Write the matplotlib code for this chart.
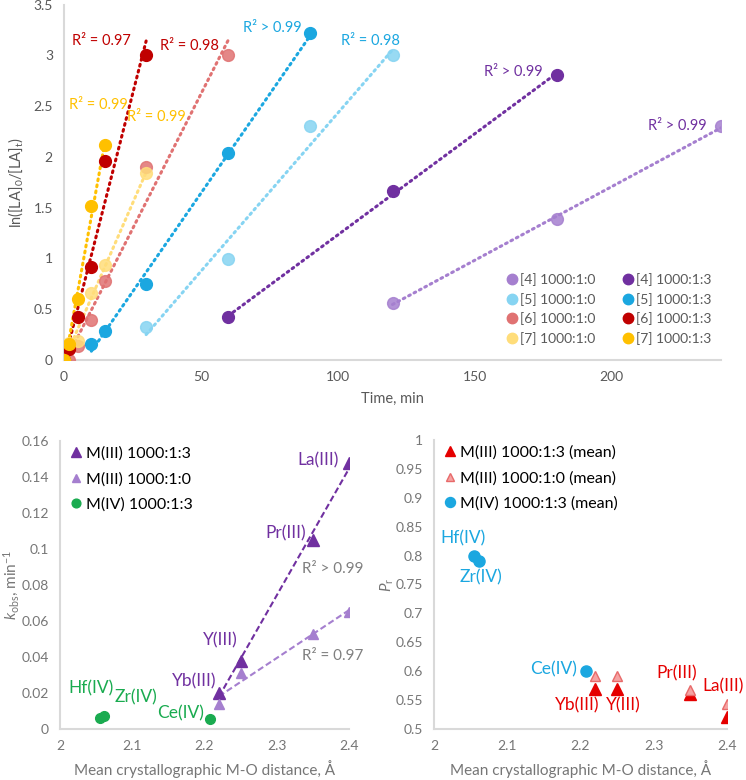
import numpy as np
from matplotlib import pyplot as plt
from matplotlib.lines import Line2D
from matplotlib.ticker import FuncFormatter

plt.rcParams['font.family'] = ['Lato', 'DejaVu Sans']
plt.rcParams['mathtext.fontset'] = 'custom'
plt.rcParams['mathtext.rm'] = 'Lato'
plt.rcParams['mathtext.it'] = 'Lato:italic'

# ---- top panel: ln([LA]0/[LA]t) vs time ----
t4_0 = [120, 180, 240]
v4_0 = [0.56, 1.39, 2.30]
t4_3 = [60, 120, 180]
v4_3 = [0.42, 1.66, 2.81]
t5_0 = [30, 60, 90, 120]
v5_0 = [0.32, 0.99, 2.30, 3.00]
t5_3 = [10, 15, 30, 60, 90]
v5_3 = [0.16, 0.29, 0.75, 2.04, 3.22]
t6_0 = [0, 2, 5, 10, 15, 30, 60]
v6_0 = [0.0, 0.0, 0.14, 0.39, 0.78, 1.90, 3.00]
t6_3 = [0, 2, 5, 10, 15, 30]
v6_3 = [0.0, 0.11, 0.42, 0.92, 1.96, 3.00]
t7_0 = [0, 2, 5, 10, 15, 30]
v7_0 = [0.0, 0.17, 0.19, 0.66, 0.94, 1.84]
t7_3 = [0, 2, 5, 10, 15]
v7_3 = [0.0, 0.16, 0.60, 1.52, 2.12]

# ---- bottom panels ----
d_m3 = [2.22, 2.25, 2.35, 2.40]
lab_m3 = ['Yb(III)', 'Y(III)', 'Pr(III)', 'La(III)']
k_m3_13 = [0.020, 0.038, 0.105, 0.148]
k_m3_10 = [0.014, 0.031, 0.053, 0.065]
d_m4 = [2.055, 2.061, 2.208]
lab_m4 = ['Hf(IV)', 'Zr(IV)', 'Ce(IV)']
k_m4_13 = [0.0063, 0.0074, 0.0057]
pr_m3_13 = [0.570, 0.570, 0.561, 0.521]
pr_m3_10 = [0.592, 0.591, 0.568, 0.543]
pr_m4_13 = [0.800, 0.790, 0.600]

PURPLE = '#7030A0'
LPURPLE = '#A57FCF'
BLUE = '#1BA7E0'
LBLUE = '#86D4F2'
RED = '#C00000'
LRED = '#E07272'
YEL = '#FFC000'
LYEL = '#FFDD7A'
GREEN = '#1AAB50'
BRED = '#E50000'
TICK = '#595959'
TICK2 = '#767676'
SPINE = '#D9D9D9'


def fmt(v, pos):
    return '%g' % round(v, 3)


def style(ax, tc):
    for s in ['top', 'right']:
        ax.spines[s].set_visible(False)
    for s in ['left', 'bottom']:
        ax.spines[s].set_color(SPINE)
        ax.spines[s].set_linewidth(1.5)
    ax.tick_params(length=0, labelsize=10, labelcolor=tc, pad=8)
    ax.xaxis.set_major_formatter(FuncFormatter(fmt))
    ax.yaxis.set_major_formatter(FuncFormatter(fmt))


fig = plt.figure(figsize=(7.46, 7.8), dpi=100)

ax1 = fig.add_axes([0.0858, 0.5385, 0.8807, 0.4555])
style(ax1, TICK)

series = [
    (t4_0, v4_0, LPURPLE, '[4] 1000:1:0', True),
    (t5_0, v5_0, LBLUE, '[5] 1000:1:0', True),
    (t6_0, v6_0, LRED, '[6] 1000:1:0', True),
    (t7_0, v7_0, LYEL, '[7] 1000:1:0', True),
    (t4_3, v4_3, PURPLE, '[4] 1000:1:3', False),
    (t5_3, v5_3, BLUE, '[5] 1000:1:3', False),
    (t6_3, v6_3, RED, '[6] 1000:1:3', False),
    (t7_3, v7_3, YEL, '[7] 1000:1:3', False),
]
handles = []
for t, v, c, lab, light in series:
    t = np.array(t, float)
    v = np.array(v, float)
    m, b = np.polyfit(t, v, 1)
    xx = np.array([t.min(), t.max()])
    ax1.plot(xx, m * xx + b, color=c, lw=2.2, ls=(0, (0.6, 1.4)),
             dash_capstyle='round', zorder=2)
    ax1.plot(t, v, 'o', ms=8.5, mfc=c, mec=c, mew=1.0,
             alpha=0.85 if light else 1.0, zorder=3)
    handles.append(Line2D([], [], marker='o', ls='', ms=7.5, mfc=c, mec=c,
                          label=lab))

ax1.set_xlim(0, 240)
ax1.set_ylim(0, 3.5)
ax1.set_xticks([0, 50, 100, 150, 200])
ax1.set_yticks(np.arange(0, 3.51, 0.5))
ax1.set_xlabel('Time, min', fontsize=10.5, color=TICK, labelpad=6)
ax1.set_ylabel(r'ln([LA]$_\mathregular{0}$/[LA]$_\mathregular{t}$)',
               fontsize=10.5, color=TICK)
ax1.yaxis.set_label_coords(-0.059, 0.5)

r2 = [
    (13.5, 3.14, 'R² = 0.97', RED),
    (46, 3.09, 'R² = 0.98', RED),
    (76, 3.27, 'R² > 0.99', BLUE),
    (112, 3.14, 'R² = 0.98', BLUE),
    (12.5, 2.51, 'R² = 0.99', YEL),
    (33.6, 2.39, 'R² = 0.99', YEL),
    (164, 2.84, 'R² > 0.99', PURPLE),
    (224, 2.30, 'R² > 0.99', PURPLE),
]
for x, y, s, c in r2:
    ax1.text(x, y, s, color=c, fontsize=10.5, ha='center', va='center')

ax1.legend(handles=handles, ncol=2, loc='lower right',
           bbox_to_anchor=(1.0, 0.015), frameon=False, fontsize=10,
           labelcolor=TICK, handlelength=0.6, handletextpad=0.3,
           columnspacing=2.0, labelspacing=0.48, borderpad=0.2)

# ---- bottom left: k_obs ----
ax2 = fig.add_axes([0.0804, 0.0654, 0.3874, 0.3692])
style(ax2, TICK2)
for k, c in [(k_m3_13, PURPLE), (k_m3_10, LPURPLE)]:
    x = np.array(d_m3)
    m, b = np.polyfit(x, k, 1)
    xx = np.array([x.min(), x.max()])
    ax2.plot(xx, m * xx + b, color=c, lw=1.5, ls=(0, (3, 1.5)), zorder=2)
ax2.plot(d_m3, k_m3_13, '^', ms=8, color=PURPLE, ls='', zorder=3,
         label='M(III) 1000:1:3')
ax2.plot(d_m3, k_m3_10, '^', ms=7, color=LPURPLE, ls='', zorder=3,
         label='M(III) 1000:1:0')
ax2.plot(d_m4, k_m4_13, 'o', ms=7, color=GREEN, ls='', zorder=3,
         label='M(IV) 1000:1:3')
ax2.set_xlim(2, 2.4)
ax2.set_ylim(0, 0.16)
ax2.set_xticks([2, 2.1, 2.2, 2.3, 2.4])
ax2.set_yticks(np.arange(0, 0.161, 0.02))
ax2.set_xlabel('Mean crystallographic M-O distance, Å', fontsize=11,
               color=TICK2, labelpad=6)
ax2.set_ylabel(r'$\mathit{k}_\mathregular{obs}$, min$^\mathregular{-1}$',
               fontsize=11, color=TICK2)
ax2.yaxis.set_label_coords(-0.135, 0.5)

lab_pos2 = [(2.155, 0.0267), (2.198, 0.0494), (2.284, 0.1089), (2.329, 0.149)]
for (x, y), s in zip(lab_pos2, lab_m3):
    ax2.text(x, y, s, color=PURPLE, fontsize=12.5, ha='left', va='center')
lab_pos2b = [(2.011, 0.0228), (2.076, 0.0178), (2.134, 0.0089)]
for (x, y), s in zip(lab_pos2b, lab_m4):
    ax2.text(x, y, s, color=GREEN, fontsize=12.5, ha='left', va='center')
ax2.text(2.335, 0.0889, 'R² > 0.99', color='#7F7F7F', fontsize=11,
         ha='left', va='center')
ax2.text(2.335, 0.0406, 'R² = 0.97', color='#7F7F7F', fontsize=11,
         ha='left', va='center')
ax2.legend(loc='upper left', bbox_to_anchor=(0.0, 1.02), frameon=False,
           fontsize=11.5, handlelength=0.6, handletextpad=0.3,
           labelspacing=0.7, borderpad=0.2, markerscale=0.9)

# ---- bottom right: Pr ----
ax3 = fig.add_axes([0.5818, 0.0654, 0.3928, 0.3705])
style(ax3, TICK2)
ax3.plot(d_m3, pr_m3_13, '^', ms=8, color=BRED, ls='', zorder=3,
         label='M(III) 1000:1:3 (mean)')
ax3.plot(d_m3, pr_m3_10, '^', ms=7, mfc='#F5A3A3', mec='#E86A6A', mew=1,
         ls='', zorder=3, label='M(III) 1000:1:0 (mean)')
ax3.plot(d_m4, pr_m4_13, 'o', ms=8, color=BLUE, ls='', zorder=3,
         label='M(IV) 1000:1:3 (mean)')
ax3.set_xlim(2, 2.4)
ax3.set_ylim(0.5, 1.0)
ax3.set_xticks([2, 2.1, 2.2, 2.3, 2.4])
ax3.set_yticks(np.arange(0.5, 1.001, 0.05))
ax3.set_xlabel('Mean crystallographic M-O distance, Å', fontsize=11,
               color=TICK2, labelpad=6)
ax3.set_ylabel(r'$\mathit{P}_\mathregular{r}$', fontsize=11, color=TICK2)
ax3.yaxis.set_label_coords(-0.13, 0.5)

lab_pos3 = [(2.165, 0.5415), (2.235, 0.541), (2.304, 0.597), (2.366, 0.574)]
for (x, y), s in zip(lab_pos3, lab_m3):
    ax3.text(x, y, s, color=BRED, fontsize=12.5, ha='left', va='center')
lab_pos3b = [(2.008, 0.830), (2.0355, 0.763), (2.131, 0.604)]
for (x, y), s in zip(lab_pos3b, lab_m4):
    ax3.text(x, y, s, color=BLUE, fontsize=12.5, ha='left', va='center')
ax3.legend(loc='upper left', bbox_to_anchor=(0.0, 1.02), frameon=False,
           fontsize=11.5, handlelength=0.6, handletextpad=0.3,
           labelspacing=0.7, borderpad=0.2, markerscale=0.9)

fig.savefig('out.png', dpi=100)
